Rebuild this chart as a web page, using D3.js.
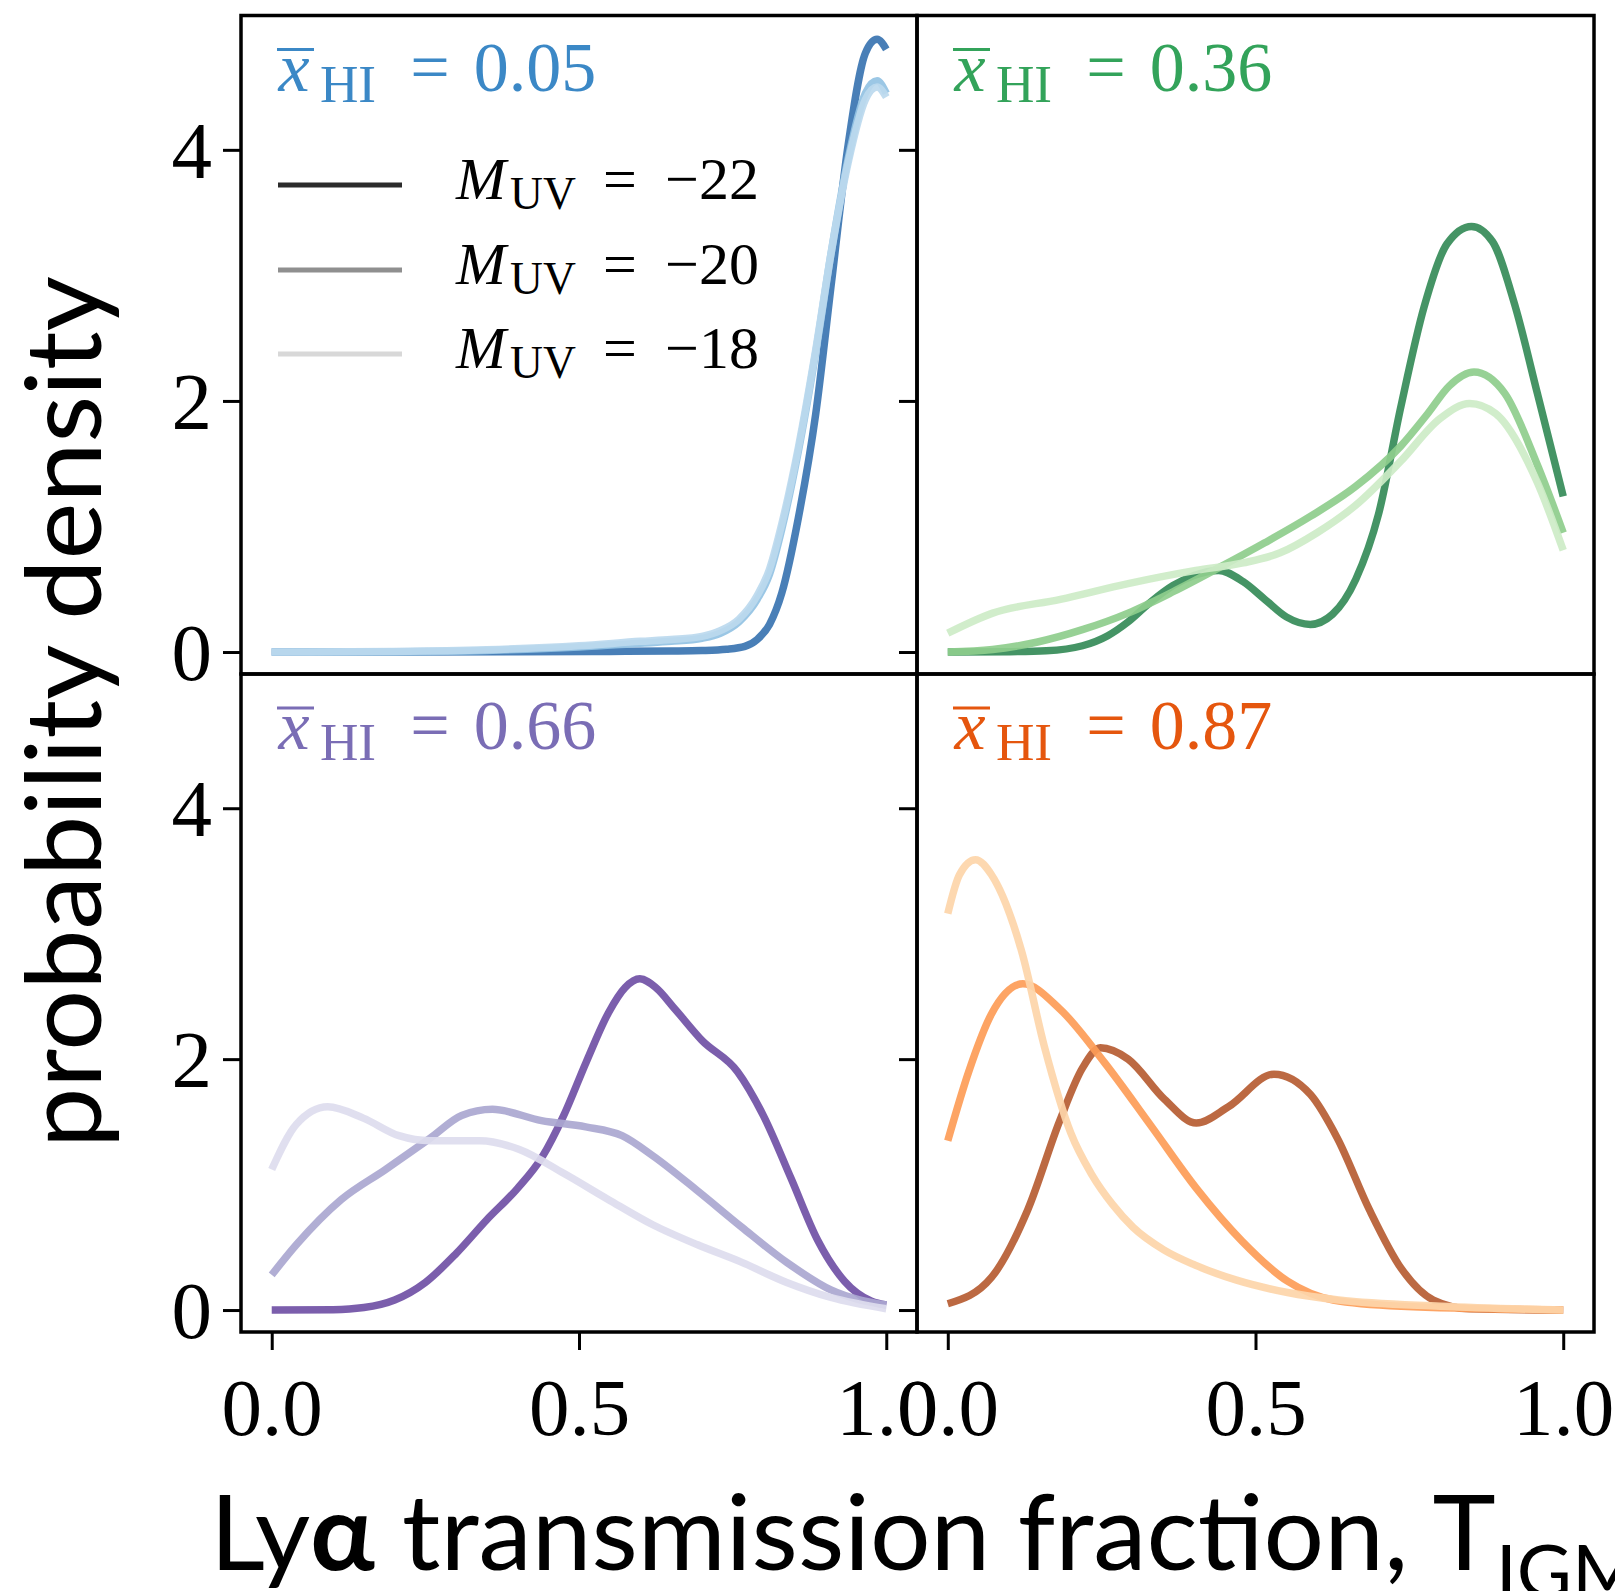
<!DOCTYPE html>
<html><head><meta charset="utf-8">
<script src="https://cdn.jsdelivr.net/npm/d3@7"></script>
<style>body{margin:0;background:#fff}svg{display:block}</style>
</head><body>
<svg id="chart" width="1615" height="1591"></svg>
<script>
// ---------- data ----------
const xTicks = [0, 0.5, 1];
const xTickLabels = ["0.0", "0.5", "1.0"];
const yTicks = [0, 2, 4];
const yTickLabels = ["0", "2", "4"];
const xhiValues = ["0.05", "0.36", "0.66", "0.87"];
const muvLabels = ["\u221222", "\u221220", "\u221218"];
const legendColors = ["#2b2b2b", "#8f8f8f", "#d8d8d8"];

// x̄_HI = 0.05 (blue)
const blue22 = [[0,0],[0.2,0],[0.4,0.002],[0.55,0.005],[0.65,0.008],[0.7,0.012],[0.74,0.022],[0.77,0.045],[0.79,0.1],[0.81,0.22],[0.83,0.47],[0.857,1.07],[0.885,1.89],[0.911,2.95],[0.938,4.04],[0.966,4.77],[0.985,4.88],[1.0,4.8]];
const blue20 = [[0,0],[0.2,0.003],[0.35,0.013],[0.5,0.04],[0.6,0.07],[0.65,0.085],[0.7,0.11],[0.73,0.15],[0.76,0.24],[0.79,0.42],[0.81,0.62],[0.83,0.98],[0.857,1.6],[0.885,2.38],[0.911,3.2],[0.938,3.93],[0.966,4.45],[0.985,4.55],[1.0,4.45]];
const blue18 = [[0,0],[0.2,0.005],[0.35,0.018],[0.5,0.05],[0.6,0.085],[0.65,0.1],[0.7,0.125],[0.73,0.17],[0.76,0.26],[0.79,0.45],[0.81,0.66],[0.83,1.02],[0.857,1.63],[0.885,2.4],[0.911,3.2],[0.938,3.9],[0.966,4.4],[0.985,4.5],[1.0,4.42]];
// x̄_HI = 0.36 (green)
const green22 = [[0,0],[0.1,0.003],[0.16,0.01],[0.219,0.05],[0.26,0.13],[0.293,0.24],[0.33,0.4],[0.366,0.53],[0.40,0.61],[0.44,0.65],[0.48,0.56],[0.515,0.42],[0.55,0.28],[0.589,0.22],[0.625,0.3],[0.663,0.58],[0.70,1.1],[0.736,1.95],[0.774,2.75],[0.811,3.25],[0.851,3.39],[0.885,3.27],[0.921,2.77],[0.958,2.06],[1.0,1.24]];
const green20 = [[0,0],[0.073,0.02],[0.146,0.08],[0.22,0.18],[0.293,0.31],[0.366,0.48],[0.44,0.67],[0.515,0.87],[0.589,1.08],[0.663,1.32],[0.736,1.64],[0.78,1.9],[0.815,2.12],[0.855,2.23],[0.905,2.06],[0.958,1.49],[1.0,0.95]];
const green18 = [[0,0.15],[0.073,0.31],[0.183,0.42],[0.293,0.545],[0.403,0.65],[0.48,0.71],[0.54,0.79],[0.6,0.95],[0.663,1.17],[0.736,1.52],[0.8,1.86],[0.848,1.98],[0.89,1.9],[0.958,1.35],[1.0,0.81]];
// x̄_HI = 0.66 (purple)
const purple22 = [[0,0],[0.1,0.003],[0.15,0.02],[0.2,0.08],[0.25,0.22],[0.3,0.45],[0.35,0.72],[0.4,0.97],[0.44,1.22],[0.475,1.55],[0.512,1.98],[0.548,2.37],[0.575,2.57],[0.599,2.64],[0.625,2.57],[0.656,2.40],[0.70,2.15],[0.758,1.90],[0.80,1.55],[0.845,1.05],[0.888,0.56],[0.932,0.23],[0.976,0.07],[1.0,0.04]];
const purple20 = [[0,0.28],[0.04,0.52],[0.113,0.88],[0.185,1.12],[0.258,1.37],[0.309,1.55],[0.359,1.60],[0.439,1.51],[0.511,1.46],[0.57,1.39],[0.62,1.23],[0.693,0.95],[0.765,0.66],[0.838,0.38],[0.91,0.16],[1.0,0.04]];
const purple18 = [[0,1.12],[0.04,1.48],[0.091,1.62],[0.149,1.53],[0.207,1.39],[0.258,1.35],[0.338,1.35],[0.403,1.28],[0.475,1.09],[0.548,0.88],[0.62,0.68],[0.693,0.52],[0.765,0.38],[0.838,0.22],[0.91,0.1],[1.0,0.01]];
// x̄_HI = 0.87 (orange)
const orange22 = [[0,0.05],[0.071,0.26],[0.13,0.80],[0.182,1.51],[0.219,1.93],[0.248,2.09],[0.293,2.0],[0.352,1.68],[0.404,1.49],[0.456,1.62],[0.53,1.88],[0.589,1.72],[0.633,1.37],[0.685,0.80],[0.737,0.33],[0.789,0.08],[0.848,0.01],[1.0,0.0]];
const orange20 = [[0,1.35],[0.034,1.90],[0.071,2.36],[0.122,2.60],[0.182,2.40],[0.255,1.97],[0.33,1.47],[0.404,0.97],[0.478,0.55],[0.552,0.23],[0.626,0.08],[0.737,0.03],[1.0,0.0]];
const orange18 = [[0,3.16],[0.019,3.47],[0.045,3.59],[0.071,3.47],[0.12,2.86],[0.157,2.1],[0.2,1.41],[0.234,1.08],[0.268,0.84],[0.301,0.66],[0.351,0.48],[0.401,0.36],[0.468,0.24],[0.552,0.14],[0.635,0.08],[0.8,0.03],[1.0,0.0]];

const titleColors = ["#3b88c6", "#33a35a", "#7a6db5", "#e5560e"];
const blueColors = ["#3a74b1", "#93c2e3", "#bcd9ee"];
const greenColors = ["#358b58", "#8ecd8c", "#cdebc7"];
const purpleColors = ["#7050a5", "#aaa7d0", "#dddcee"];
const orangeColors = ["#b65c32", "#fd9c57", "#fdd5a9"];

// ---------- layout ----------
const W = 1615, H = 1591;
const colX = [241, 917, 1594];
const rowY = [15.5, 674, 1332];
const xDomain = [-0.05, 1.05];
const yDomain = [-0.175, 5.07];
const serif = "'Liberation Serif', 'DejaVu Serif', serif";
const sans = "Lato, 'Open Sans', sans-serif";

const panels = [
  {row:0, col:0, value:xhiValues[0], tcolor:titleColors[0], colors:blueColors, series:[blue22, blue20, blue18], legend:true},
  {row:0, col:1, value:xhiValues[1], tcolor:titleColors[1], colors:greenColors, series:[green22, green20, green18]},
  {row:1, col:0, value:xhiValues[2], tcolor:titleColors[2], colors:purpleColors, series:[purple22, purple20, purple18]},
  {row:1, col:1, value:xhiValues[3], tcolor:titleColors[3], colors:orangeColors, series:[orange22, orange20, orange18]}
];

const svg = d3.select("#chart");
svg.append("rect").attr("width", W).attr("height", H).attr("fill", "#fff");

// parts: {t, italic, sub, c (centre offset from x)}
function mathLabel(g, x, y, size, color, parts) {
  const txt = g.append("text").attr("font-family", serif).attr("fill", color)
    .attr("font-size", size).attr("text-anchor", "middle");
  parts.forEach(p => {
    txt.append("tspan")
      .attr("x", x + p.c)
      .attr("y", y + (p.sub ? size * 0.16 : 0))
      .attr("font-size", p.sub ? size * 0.76 : size)
      .attr("font-style", p.italic ? "italic" : "normal")
      .text(p.t);
  });
  return txt;
}

panels.forEach(p => {
  const x0 = colX[p.col], x1 = colX[p.col + 1];
  const y0 = rowY[p.row], y1 = rowY[p.row + 1];
  const x = d3.scaleLinear().domain(xDomain).range([x0, x1]);
  const y = d3.scaleLinear().domain(yDomain).range([y1, y0]);
  const g = svg.append("g");

  const line = d3.line().x(d => x(d[0])).y(d => y(d[1])).curve(d3.curveMonotoneX);
  p.series.forEach((s, i) => {
    g.append("path").attr("d", line(s)).attr("fill", "none")
      .attr("stroke", p.colors[i]).attr("stroke-width", 7.5)
      .attr("stroke-opacity", 0.92)
      .attr("stroke-linejoin", "round").attr("stroke-linecap", "butt");
  });

  // y axis
  const yAxis = d3.axisLeft(y).tickValues(yTicks).tickSize(18).tickPadding(11)
    .tickFormat((d, i) => p.col === 0 ? yTickLabels[i] : "");
  const ya = g.append("g").attr("transform", `translate(${x0},0)`).call(yAxis);
  ya.select(".domain").remove();
  ya.selectAll("line").attr("stroke", "#000").attr("stroke-width", 3);
  ya.selectAll("text").attr("font-family", serif).attr("font-size", 81).attr("fill", "#000")
    .attr("dy", "0.34em");

  // x axis on bottom row
  if (p.row === 1) {
    const xAxis = d3.axisBottom(x).tickValues(xTicks).tickSize(18).tickPadding(27)
      .tickFormat((d, i) => xTickLabels[i]);
    const xa = g.append("g").attr("transform", `translate(0,${y1})`).call(xAxis);
    xa.select(".domain").remove();
    xa.selectAll("line").attr("stroke", "#000").attr("stroke-width", 3);
    xa.selectAll("text").attr("font-family", serif).attr("font-size", 81).attr("fill", "#000");
  }

  // frame
  g.append("rect").attr("x", x0).attr("y", y0).attr("width", x1 - x0).attr("height", y1 - y0)
    .attr("fill", "none").attr("stroke", "#000").attr("stroke-width", 3.5);

  // title  x̄_HI = value
  const tx = x0 + 35, ty = y0 + 75;
  mathLabel(g, tx, ty, 70, p.tcolor, [
    {t: "x", italic: true, c: 18},
    {t: "HI", sub: true, c: 72},
    {t: "=", c: 154},
    {t: p.value, c: 259}
  ]);
  g.append("line").attr("x1", tx + 1).attr("x2", tx + 38).attr("y1", ty - 41).attr("y2", ty - 41)
    .attr("stroke", p.tcolor).attr("stroke-width", 3);

  // legend
  if (p.legend) {
    const rows = [185, 270, 354];
    rows.forEach((ry, i) => {
      g.append("line").attr("x1", 278).attr("x2", 402).attr("y1", ry).attr("y2", ry)
        .attr("stroke", legendColors[i]).attr("stroke-width", 5);
      mathLabel(g, 453, ry + 14, 60, "#000", [
        {t: "M", italic: true, c: 28},
        {t: "UV", sub: true, c: 90},
        {t: "=", c: 167},
        {t: muvLabels[i], c: 259}
      ]);
    });
  }
});

// y axis label
const yl = svg.append("text").attr("font-family", sans).attr("font-size", 104).attr("fill", "#000")
  .text("probability density");
const ylen = yl.node().getComputedTextLength();
yl.attr("text-anchor", "middle")
  .attr("transform", `translate(101,712) rotate(-90) scale(${872 / ylen},1)`);

// x axis label
const probe = svg.append("text").attr("font-family", sans).attr("font-size", 105);
probe.append("tspan").text("Ly");
probe.append("tspan").attr("font-weight", "bold").text("\u03b1");
probe.append("tspan").text(" transmission fraction,\u00a0");
const xlen = probe.node().getComputedTextLength();
probe.remove();
const xsx = 1226 / xlen;
const xg = svg.append("g").attr("transform", `translate(210,1570) scale(${xsx},1)`);
const xl = xg.append("text").attr("font-family", sans).attr("font-size", 105).attr("fill", "#000");
xl.append("tspan").text("Ly");
xl.append("tspan").attr("font-weight", "bold").text("\u03b1");
xl.append("tspan").text(" transmission fraction,\u00a0T");
xl.append("tspan").attr("font-size", 74).attr("dy", 28).text("IGM");
</script>
</body></html>
